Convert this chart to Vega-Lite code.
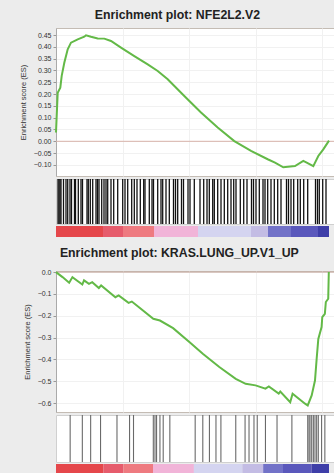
{
  "$schema": "https://vega.github.io/schema/vega-lite/v6.json",
  "background": "#ececec",
  "padding": {"left": 18, "top": 9, "right": 0, "bottom": 0},
  "config": {
    "font": "Liberation Sans",
    "axis": {"labelFont": "Liberation Sans", "labelFontSize": 7, "labelColor": "#333333", "titleFont": "Liberation Sans", "titleFontSize": 7.5, "titleFontWeight": "normal", "titleColor": "#333333", "tickSize": 3, "tickColor": "#999999", "domainColor": "#aaaaaa", "gridColor": "#f1f1f1", "labelPadding": 2, "labelOverlap": false, "labelFlush": false},
    "title": {"font": "Liberation Sans", "fontSize": 12.3, "fontWeight": "bold", "color": "#222222", "anchor": "middle"}
  },
  "datasets": {
    "es1": [
      {"rank": 0, "es": 0.037}, {"rank": 128, "es": 0.206}, {"rank": 323, "es": 0.227}, {"rank": 428, "es": 0.277},
      {"rank": 623, "es": 0.333}, {"rank": 879, "es": 0.39}, {"rank": 1126, "es": 0.418}, {"rank": 1630, "es": 0.432},
      {"rank": 2125, "es": 0.443}, {"rank": 2253, "es": 0.449}, {"rank": 2628, "es": 0.443}, {"rank": 3131, "es": 0.436},
      {"rank": 3627, "es": 0.435}, {"rank": 4130, "es": 0.425}, {"rank": 4881, "es": 0.397}, {"rank": 5880, "es": 0.361},
      {"rank": 6886, "es": 0.326}, {"rank": 7637, "es": 0.298}, {"rank": 8388, "es": 0.263}, {"rank": 9634, "es": 0.192},
      {"rank": 10888, "es": 0.122}, {"rank": 12140, "es": 0.058}, {"rank": 13390, "es": 0.001}, {"rank": 14643, "es": -0.041},
      {"rank": 15896, "es": -0.076}, {"rank": 16445, "es": -0.09}, {"rank": 17068, "es": -0.11}, {"rank": 17946, "es": -0.105},
      {"rank": 18570, "es": -0.083}, {"rank": 18825, "es": -0.09}, {"rank": 19321, "es": -0.105}, {"rank": 19696, "es": -0.062},
      {"rank": 20071, "es": -0.034}, {"rank": 20500, "es": 0.003}
    ],
    "hits1": [
      {"rank": 150}, {"rank": 225}, {"rank": 300}, {"rank": 375}, {"rank": 563}, {"rank": 751}, {"rank": 879}, {"rank": 1051},
      {"rank": 1164}, {"rank": 1389}, {"rank": 1464}, {"rank": 1675}, {"rank": 1877}, {"rank": 1990}, {"rank": 2328}, {"rank": 2425},
      {"rank": 2576}, {"rank": 2756}, {"rank": 3004}, {"rank": 3116}, {"rank": 3229}, {"rank": 3432}, {"rank": 3604}, {"rank": 3755},
      {"rank": 3882}, {"rank": 4130}, {"rank": 4333}, {"rank": 4633}, {"rank": 5009}, {"rank": 5181}, {"rank": 5384}, {"rank": 5684},
      {"rank": 5880}, {"rank": 6082}, {"rank": 6330}, {"rank": 6585}, {"rank": 6683}, {"rank": 7006}, {"rank": 7209}, {"rank": 7321},
      {"rank": 7637}, {"rank": 7884}, {"rank": 8012}, {"rank": 8260}, {"rank": 8508}, {"rank": 8823}, {"rank": 8973}, {"rank": 9138},
      {"rank": 9424}, {"rank": 9574}, {"rank": 9912}, {"rank": 10062}, {"rank": 10385}, {"rank": 10813}, {"rank": 11091}, {"rank": 11339},
      {"rank": 11512}, {"rank": 11767}, {"rank": 11887}, {"rank": 12142}, {"rank": 12390}, {"rank": 12638}, {"rank": 12893}, {"rank": 13141},
      {"rank": 13344}, {"rank": 13516}, {"rank": 13839}, {"rank": 14095}, {"rank": 14342}, {"rank": 14680}, {"rank": 14830}, {"rank": 15018},
      {"rank": 15266}, {"rank": 15544}, {"rank": 15694}, {"rank": 15896}, {"rank": 16144}, {"rank": 16392}, {"rank": 16647}, {"rank": 16895},
      {"rank": 17308}, {"rank": 17458}, {"rank": 17646}, {"rank": 17849}, {"rank": 18149}, {"rank": 18345}, {"rank": 18600}, {"rank": 18900},
      {"rank": 19486}, {"rank": 19636}, {"rank": 19771}, {"rank": 20027}, {"rank": 20274}
    ],
    "bar1": [
      {"start": 0, "end": 3530, "seg": 1}, {"start": 3530, "end": 5031, "seg": 2}, {"start": 5031, "end": 7359, "seg": 3},
      {"start": 7359, "end": 10663, "seg": 4}, {"start": 10663, "end": 14643, "seg": 5}, {"start": 14643, "end": 15919, "seg": 6},
      {"start": 15919, "end": 17646, "seg": 7}, {"start": 17646, "end": 19674, "seg": 8}, {"start": 19674, "end": 20500, "seg": 9}
    ],
    "es2": [
      {"rank": 0, "es": 0.0}, {"rank": 491, "es": -0.023}, {"rank": 989, "es": -0.049}, {"rank": 1234, "es": -0.023},
      {"rank": 1977, "es": -0.057}, {"rank": 2104, "es": -0.038}, {"rank": 2475, "es": -0.054}, {"rank": 2720, "es": -0.046},
      {"rank": 3218, "es": -0.073}, {"rank": 3389, "es": -0.061}, {"rank": 4460, "es": -0.115}, {"rank": 4705, "es": -0.107},
      {"rank": 5448, "es": -0.141}, {"rank": 5694, "es": -0.135}, {"rank": 6065, "es": -0.153}, {"rank": 7307, "es": -0.214},
      {"rank": 7805, "es": -0.222}, {"rank": 8793, "es": -0.257}, {"rank": 10035, "es": -0.321}, {"rank": 11023, "es": -0.374},
      {"rank": 12264, "es": -0.435}, {"rank": 13498, "es": -0.489}, {"rank": 14241, "es": -0.512}, {"rank": 14985, "es": -0.519},
      {"rank": 15728, "es": -0.534}, {"rank": 15981, "es": -0.524}, {"rank": 16724, "es": -0.557}, {"rank": 16843, "es": -0.547},
      {"rank": 17587, "es": -0.596}, {"rank": 17765, "es": -0.557}, {"rank": 18702, "es": -0.603}, {"rank": 18902, "es": -0.611},
      {"rank": 19199, "es": -0.565}, {"rank": 19447, "es": -0.497}, {"rank": 19573, "es": -0.397}, {"rank": 19697, "es": -0.306},
      {"rank": 19943, "es": -0.252}, {"rank": 19995, "es": -0.206}, {"rank": 20188, "es": -0.191}, {"rank": 20263, "es": -0.137},
      {"rank": 20441, "es": -0.122}, {"rank": 20485, "es": 0.0}
    ],
    "hits2": [
      {"rank": 1063}, {"rank": 1977}, {"rank": 2602}, {"rank": 3345}, {"rank": 4579}, {"rank": 5523}, {"rank": 5820}, {"rank": 7307},
      {"rank": 7433}, {"rank": 7552}, {"rank": 7805}, {"rank": 8050}, {"rank": 8548}, {"rank": 10451}, {"rank": 11023}, {"rank": 11521},
      {"rank": 12012}, {"rank": 12383}, {"rank": 13498}, {"rank": 14197}, {"rank": 14494}, {"rank": 14866}, {"rank": 15111}, {"rank": 15728},
      {"rank": 16597}, {"rank": 17713}, {"rank": 18902}, {"rank": 18999}, {"rank": 19073}, {"rank": 19199}, {"rank": 19325}, {"rank": 19447},
      {"rank": 19573}, {"rank": 19697}, {"rank": 19943}, {"rank": 20188}
    ],
    "bar2": [
      {"start": 0, "end": 3568, "seg": 1}, {"start": 3568, "end": 5054, "seg": 2}, {"start": 5054, "end": 7284, "seg": 3},
      {"start": 7284, "end": 10354, "seg": 4}, {"start": 10354, "end": 13996, "seg": 5}, {"start": 13996, "end": 15557, "seg": 6},
      {"start": 15557, "end": 17044, "seg": 7}, {"start": 17044, "end": 19199, "seg": 8}, {"start": 19199, "end": 20500, "seg": 9}
    ]
  },
  "spacing": 10,
  "vconcat": [
    {
      "title": {"text": "Enrichment plot: NFE2L2.V2", "offset": 6},
      "spacing": 0,
      "vconcat": [
        {
          "width": 279, "height": 148,
          "view": {"fill": "white", "stroke": "#c4bcb4"},
          "layer": [
            {
              "data": {"values": [{"es": 0}]},
              "mark": {"type": "rule", "color": "#d9b3aa", "strokeWidth": 1},
              "encoding": {"y": {"field": "es", "type": "quantitative", "scale": {"domain": [-0.147, 0.48], "nice": false, "zero": false},
                                 "axis": {"title": "Enrichment score (ES)", "format": ".2f", "values": [-0.1, -0.05, 0, 0.05, 0.1, 0.15, 0.2, 0.25, 0.3, 0.35, 0.4, 0.45], "grid": true, "titlePadding": 6, "labelOverlap": false}}}
            },
            {
              "data": {"name": "es1"},
              "mark": {"type": "line", "color": "#63b947", "strokeWidth": 2},
              "encoding": {
                "x": {"field": "rank", "type": "quantitative", "scale": {"domain": [0, 20950], "nice": false},
                      "axis": {"labels": false, "ticks": false, "domain": false, "title": null, "grid": true, "values": [5000, 10000, 15000, 20000], "minExtent": 0, "maxExtent": 0}},
                "y": {"field": "es", "type": "quantitative", "scale": {"domain": [-0.147, 0.48], "nice": false, "zero": false},
                      "axis": {"title": "Enrichment score (ES)", "format": ".2f", "values": [-0.1, -0.05, 0, 0.05, 0.1, 0.15, 0.2, 0.25, 0.3, 0.35, 0.4, 0.45], "grid": true, "titlePadding": 6, "labelOverlap": false}}
              }
            }
          ]
        },
        {
          "width": 279, "height": 45,
          "view": {"fill": "white", "stroke": "#d0d0d0"},
          "data": {"name": "hits1"},
          "mark": {"type": "rule", "color": "#111111", "strokeWidth": 1.3},
          "encoding": {"x": {"field": "rank", "type": "quantitative", "scale": {"domain": [0, 20950], "nice": false}, "axis": null}}
        },
        {
          "width": 279, "height": 11,
          "view": {"stroke": null},
          "data": {"name": "bar1"},
          "mark": {"type": "rect"},
          "encoding": {
            "x": {"field": "start", "type": "quantitative", "scale": {"domain": [0, 20950], "nice": false}, "axis": null},
            "x2": {"field": "end"},
            "color": {"field": "seg", "type": "ordinal", "legend": null,
                      "scale": {"domain": [1, 2, 3, 4, 5, 6, 7, 8, 9], "range": ["#e5474b", "#e65c6c", "#ee7a80", "#f1b4d8", "#d4d4f0", "#c3bce4", "#7272c8", "#5a58bc", "#3e3ea8"]}}
          }
        }
      ]
    },
    {
      "title": {"text": "Enrichment plot: KRAS.LUNG_UP.V1_UP", "offset": 8},
      "spacing": 0,
      "vconcat": [
        {
          "width": 279, "height": 141,
          "view": {"fill": "white", "stroke": "#c4bcb4"},
          "layer": [
            {
              "data": {"values": [{"es": 0}]},
              "mark": {"type": "rule", "color": "#c9a99f", "strokeWidth": 1},
              "encoding": {"y": {"field": "es", "type": "quantitative", "scale": {"domain": [-0.641, 0.005], "nice": false, "zero": false},
                                 "axis": {"title": "Enrichment score (ES)", "format": ".1f", "values": [-0.6, -0.5, -0.4, -0.3, -0.2, -0.1, 0], "grid": true, "titlePadding": 6, "labelOverlap": false}}}
            },
            {
              "data": {"name": "es2"},
              "mark": {"type": "line", "color": "#63b947", "strokeWidth": 2},
              "encoding": {
                "x": {"field": "rank", "type": "quantitative", "scale": {"domain": [0, 20950], "nice": false},
                      "axis": {"labels": false, "ticks": false, "domain": false, "title": null, "grid": true, "values": [5000, 10000, 15000, 20000], "minExtent": 0, "maxExtent": 0}},
                "y": {"field": "es", "type": "quantitative", "scale": {"domain": [-0.641, 0.005], "nice": false, "zero": false},
                      "axis": {"title": "Enrichment score (ES)", "format": ".1f", "values": [-0.6, -0.5, -0.4, -0.3, -0.2, -0.1, 0], "grid": true, "titlePadding": 6, "labelOverlap": false}}
              }
            }
          ]
        },
        {
          "width": 279, "height": 47,
          "view": {"fill": "white", "stroke": "#d0d0d0"},
          "data": {"name": "hits2"},
          "mark": {"type": "rule", "color": "#6a6a6a", "strokeWidth": 1.1},
          "encoding": {"x": {"field": "rank", "type": "quantitative", "scale": {"domain": [0, 20950], "nice": false}, "axis": null}}
        },
        {
          "width": 279, "height": 11,
          "view": {"stroke": null},
          "data": {"name": "bar2"},
          "mark": {"type": "rect"},
          "encoding": {
            "x": {"field": "start", "type": "quantitative", "scale": {"domain": [0, 20950], "nice": false}, "axis": null},
            "x2": {"field": "end"},
            "color": {"field": "seg", "type": "ordinal", "legend": null,
                      "scale": {"domain": [1, 2, 3, 4, 5, 6, 7, 8, 9], "range": ["#e5474b", "#e65c6c", "#ee7a80", "#f1b4d8", "#d4d4f0", "#c3bce4", "#7272c8", "#5a58bc", "#3e3ea8"]}}
          }
        }
      ]
    }
  ]
}
